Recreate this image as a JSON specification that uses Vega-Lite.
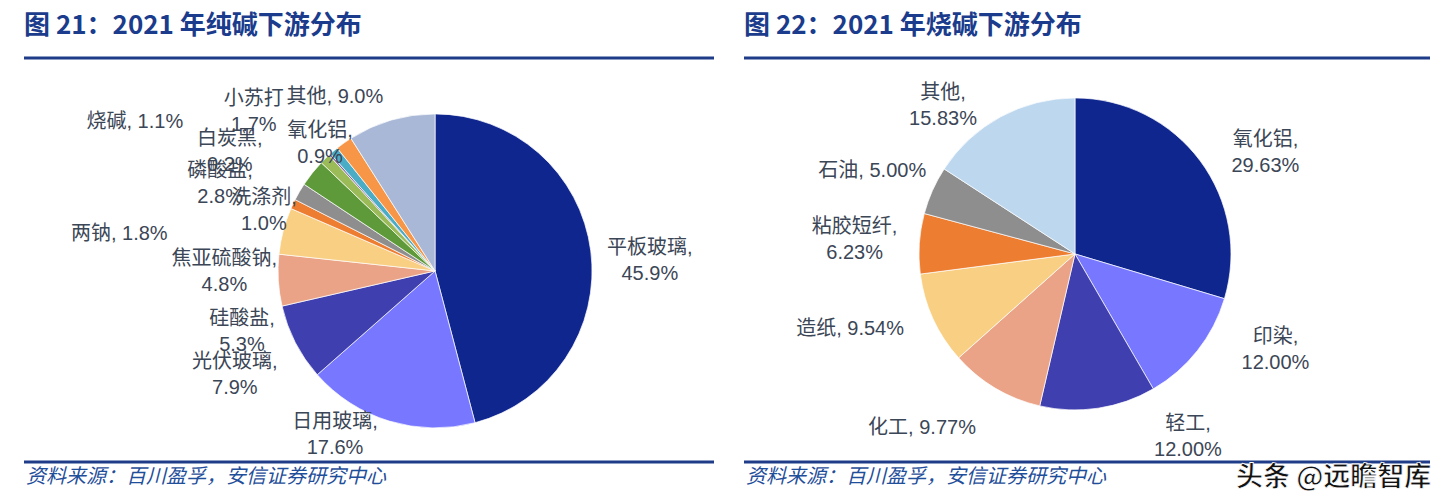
{
  "$schema": "https://vega.github.io/schema/vega-lite/v6.json",
  "padding": {"left": 22, "right": 8, "top": 12, "bottom": 0},
  "background": "white",
  "config": {"view": {"stroke": null}, "concat": {"spacing": 26}},
  "resolve": {"scale": {"color": "independent", "theta": "independent", "x": "independent", "y": "independent"}},
  "hconcat": [
    {
      "width": 690,
      "height": 404,
      "title": {"text": "图 21：2021 年纯碱下游分布", "anchor": "start", "frame": "group", "fontSize": 26, "font": "Noto Sans CJK SC", "fontWeight": "bold", "color": "#1B3C8C", "offset": 18},
      "data": {"values": [
        {"name": "平板玻璃", "v": 45.9, "label": "平板玻璃,\n45.9%"},
        {"name": "日用玻璃", "v": 17.6, "label": "日用玻璃,\n17.6%"},
        {"name": "光伏玻璃", "v": 7.9, "label": "光伏玻璃,\n7.9%"},
        {"name": "硅酸盐", "v": 5.3, "label": "硅酸盐,\n5.3%"},
        {"name": "焦亚硫酸钠", "v": 4.8, "label": "焦亚硫酸钠,\n4.8%"},
        {"name": "洗涤剂", "v": 1.0, "label": "洗涤剂,\n1.0%"},
        {"name": "两钠", "v": 1.8, "label": "两钠, 1.8%"},
        {"name": "磷酸盐", "v": 2.8, "label": "磷酸盐,\n2.8%"},
        {"name": "烧碱", "v": 1.1, "label": "烧碱, 1.1%"},
        {"name": "白炭黑", "v": 0.2, "label": "白炭黑,\n0.2%"},
        {"name": "氧化铝", "v": 0.9, "label": "氧化铝,\n0.9%"},
        {"name": "小苏打", "v": 1.7, "label": "小苏打\n1.7%"},
        {"name": "其他", "v": 9.0, "label": "其他, 9.0%"}
      ]},
      "layer": [
        {
          "transform": [{"window": [{"op": "row_number", "as": "i"}]}],
          "mark": {"type": "arc", "outerRadius": 157, "stroke": "white", "strokeWidth": 0.7},
          "encoding": {
            "theta": {"field": "v", "type": "quantitative", "stack": true},
            "order": {"field": "i", "type": "quantitative"},
            "color": {"field": "name", "type": "nominal", "legend": null,
              "scale": {"domain": ["平板玻璃","日用玻璃","光伏玻璃","硅酸盐","焦亚硫酸钠","洗涤剂","两钠","磷酸盐","烧碱","白炭黑","氧化铝","小苏打","其他"],
                        "range": ["#10268F","#7777FF","#3F3FAF","#EAA386","#F8CF83","#ED7D31","#8E8E8E","#5E9A3A","#9BBB59","#8064A2","#4BACC6","#F79646","#A9B8D6"]}},
            "x": {"datum": 59.57, "type": "quantitative", "scale": {"domain": [0, 100]}, "axis": null},
            "y": {"datum": 47.3, "type": "quantitative", "scale": {"domain": [0, 100]}, "axis": null}
          }
        },
        {
          "transform": [{"window": [{"op": "row_number", "as": "i"}]}],
          "mark": {"type": "text",
            "radius": {"expr": "[216,181,220,199,211,186,318,237,335,244,181,250,201][datum.i - 1]"},
            "thetaOffset": {"expr": "[0.023,0.290,0.047,-0.185,-0.201,-0.037,-0.410,-0.237,-0.335,-0.264,0.012,-0.192,-0.239][datum.i - 1]"},
            "lineBreak": "\n", "fontSize": 20, "lineHeight": 26, "font": "Liberation Sans, Noto Sans CJK SC", "color": "#3B4656", "align": "center", "baseline": "middle"},
          "encoding": {
            "theta": {"field": "v", "type": "quantitative", "stack": true},
            "order": {"field": "i", "type": "quantitative"},
            "text": {"field": "label", "type": "nominal"},
            "x": {"datum": 59.57, "type": "quantitative"},
            "y": {"datum": 47.3, "type": "quantitative"}
          }
        },
        {
          "data": {"values": [{"p": 100}, {"p": 0}]},
          "mark": {"type": "rule", "color": "#1F3C88", "strokeWidth": 3},
          "encoding": {"y": {"field": "p", "type": "quantitative"}}
        },
        {
          "data": {"values": [{"t": "资料来源：百川盈孚，安信证券研究中心"}]},
          "mark": {"type": "text", "align": "left", "baseline": "middle", "fontSize": 20, "fontStyle": "italic", "font": "Noto Sans CJK SC", "color": "#1F4E9A"},
          "encoding": {"text": {"field": "t", "type": "nominal"}, "x": {"datum": 0.3, "type": "quantitative"}, "y": {"datum": -3.8, "type": "quantitative"}}
        }
      ]
    },
    {
      "width": 686,
      "height": 404,
      "title": {"text": "图 22：2021 年烧碱下游分布", "anchor": "start", "frame": "group", "fontSize": 26, "font": "Noto Sans CJK SC", "fontWeight": "bold", "color": "#1B3C8C", "offset": 18},
      "data": {"values": [
        {"name": "氧化铝", "v": 29.63, "label": "氧化铝,\n29.63%"},
        {"name": "印染", "v": 12.00, "label": "印染,\n12.00%"},
        {"name": "轻工", "v": 12.00, "label": "轻工,\n12.00%"},
        {"name": "化工", "v": 9.77, "label": "化工, 9.77%"},
        {"name": "造纸", "v": 9.54, "label": "造纸, 9.54%"},
        {"name": "粘胶短纤", "v": 6.23, "label": "粘胶短纤,\n6.23%"},
        {"name": "石油", "v": 5.00, "label": "石油, 5.00%"},
        {"name": "其他", "v": 15.83, "label": "其他,\n15.83%"}
      ]},
      "layer": [
        {
          "transform": [{"window": [{"op": "row_number", "as": "i"}]}],
          "mark": {"type": "arc", "outerRadius": 156, "stroke": "white", "strokeWidth": 0.7},
          "encoding": {
            "theta": {"field": "v", "type": "quantitative", "stack": true},
            "order": {"field": "i", "type": "quantitative"},
            "color": {"field": "name", "type": "nominal", "legend": null,
              "scale": {"domain": ["氧化铝","印染","轻工","化工","造纸","粘胶短纤","石油","其他"],
                        "range": ["#10268F","#7777FF","#3F3FAF","#EAA386","#F8CF83","#ED7D31","#8E8E8E","#BDD7EE"]}},
            "x": {"datum": 48.25, "type": "quantitative", "scale": {"domain": [0, 100]}, "axis": null},
            "y": {"datum": 51.5, "type": "quantitative", "scale": {"domain": [0, 100]}, "axis": null}
          }
        },
        {
          "transform": [{"window": [{"op": "row_number", "as": "i"}]}],
          "mark": {"type": "text",
            "radius": {"expr": "[222,217,204,232,237,222,219,208][datum.i - 1]"},
            "thetaOffset": {"expr": "[0.100,-0.275,-0.438,0.185,0.108,0.056,-0.031,-0.190][datum.i - 1]"},
            "lineBreak": "\n", "fontSize": 20, "lineHeight": 26, "font": "Liberation Sans, Noto Sans CJK SC", "color": "#3B4656", "align": "center", "baseline": "middle"},
          "encoding": {
            "theta": {"field": "v", "type": "quantitative", "stack": true},
            "order": {"field": "i", "type": "quantitative"},
            "text": {"field": "label", "type": "nominal"},
            "x": {"datum": 48.25, "type": "quantitative"},
            "y": {"datum": 51.5, "type": "quantitative"}
          }
        },
        {
          "data": {"values": [{"p": 100}, {"p": 0}]},
          "mark": {"type": "rule", "color": "#1F3C88", "strokeWidth": 3},
          "encoding": {"y": {"field": "p", "type": "quantitative"}}
        },
        {
          "data": {"values": [{"t": "资料来源：百川盈孚，安信证券研究中心"}]},
          "mark": {"type": "text", "align": "left", "baseline": "middle", "fontSize": 20, "fontStyle": "italic", "font": "Noto Sans CJK SC", "color": "#1F4E9A"},
          "encoding": {"text": {"field": "t", "type": "nominal"}, "x": {"datum": 0.3, "type": "quantitative"}, "y": {"datum": -3.8, "type": "quantitative"}}
        },
        {
          "data": {"values": [{"t": "头条 @远瞻智库"}]},
          "mark": {"type": "text", "align": "right", "baseline": "middle", "fontSize": 27, "fontWeight": "bold", "font": "Noto Sans CJK SC", "color": "#111111", "stroke": "white", "strokeWidth": 0.8},
          "encoding": {"text": {"field": "t", "type": "nominal"}, "x": {"datum": 100.2, "type": "quantitative"}, "y": {"datum": -4.0, "type": "quantitative"}}
        }
      ]
    }
  ]
}
